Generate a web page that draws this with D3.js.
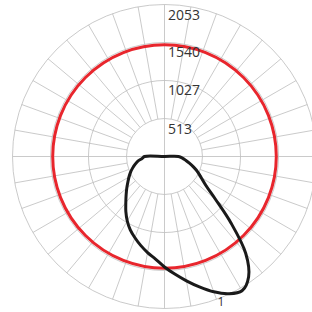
<!DOCTYPE html>
<html>
<head>
<meta charset="utf-8">
<script src="https://cdn.jsdelivr.net/npm/d3@7.8.5/dist/d3.min.js"></script>
<style>
  html, body { margin: 0; padding: 0; background: #fff; }
  svg { display: block; }
  .ring-label { font-family: "Open Sans", sans-serif; font-size: 14px; fill: #333; }
</style>
</head>
<body>
<div id="chart"></div>
<script>
// ring values (cd)
const ringValues = [513, 1027, 1540, 2053];

// angle from nadir (deg, + to the right), black curve
const curveAngles = [
  -90, -85, -80, -75, -70, -65, -60, -55, -50, -45, -40, -35, -30, -25, -20, -15, -10, -5,
  0, 5, 10, 15, 20, 25, 30, 35, 40, 45, 50, 55, 60, 65, 70, 75, 80, 85, 90, 180
];
const curveValues = [
  270, 304, 365, 412, 459, 507, 554, 604, 665, 733, 813, 910, 1006, 1094, 1168, 1243, 1317, 1391,
  1492, 1594, 1705, 1823, 1945, 2045, 2094, 1981, 1706, 1270, 898, 683, 573, 496, 419, 348, 290, 243, 189, 0
];

// red curve, constant all round
const redValue = 1510;

// extra label at the bottom
const bottomLabel = "1";

const width = 312;
const height = 312;
const cx = 164.5;
const cy = 156.5;
const outerR = 152;

const rScale = d3.scaleLinear().domain([0, 2053]).range([0, outerR]);

const svg = d3.select("#chart")
  .append("svg")
  .attr("width", width)
  .attr("height", height);

const g = svg.append("g").attr("transform", `translate(${cx},${cy})`);

// grid rings
g.selectAll(".ring")
  .data(ringValues)
  .enter()
  .append("circle")
  .attr("class", "ring")
  .attr("r", (d) => rScale(d))
  .attr("fill", "none")
  .attr("stroke", "#bdbdbd")
  .attr("stroke-width", 0.8);

// spokes every 10 deg, main axes go through the centre
const spokes = d3.range(0, 360, 10);
g.selectAll(".spoke")
  .data(spokes)
  .enter()
  .append("line")
  .attr("class", "spoke")
  .attr("x1", (d) => (d % 90 === 0 ? 0 : rScale(513) * Math.sin((d * Math.PI) / 180)))
  .attr("y1", (d) => (d % 90 === 0 ? 0 : rScale(513) * Math.cos((d * Math.PI) / 180)))
  .attr("x2", (d) => outerR * Math.sin((d * Math.PI) / 180))
  .attr("y2", (d) => outerR * Math.cos((d * Math.PI) / 180))
  .attr("stroke", "#bdbdbd")
  .attr("stroke-width", 0.8);

// red circle
g.append("circle")
  .attr("r", rScale(redValue))
  .attr("fill", "none")
  .attr("stroke", "#e8262d")
  .attr("stroke-width", 3);

// black curve
const line = d3.lineRadial()
  .angle((d) => ((180 - d[0]) * Math.PI) / 180)
  .radius((d) => rScale(d[1]))
  .curve(d3.curveCatmullRomClosed.alpha(0.5));

g.append("path")
  .datum(curveAngles.map((a, i) => [a, curveValues[i]]))
  .attr("d", line)
  .attr("fill", "none")
  .attr("stroke", "#1a1a1a")
  .attr("stroke-width", 3)
  .attr("stroke-linejoin", "round");

// ring labels
g.selectAll(".ring-label")
  .data(ringValues)
  .enter()
  .append("text")
  .attr("class", "ring-label")
  .attr("x", 3.5)
  .attr("y", (d) => -rScale(d) + 15)
  .text((d) => d);

g.append("text")
  .attr("class", "ring-label")
  .style("font-size", "12px")
  .attr("x", 53)
  .attr("y", 149)
  .text(bottomLabel);
</script>
</body>
</html>
